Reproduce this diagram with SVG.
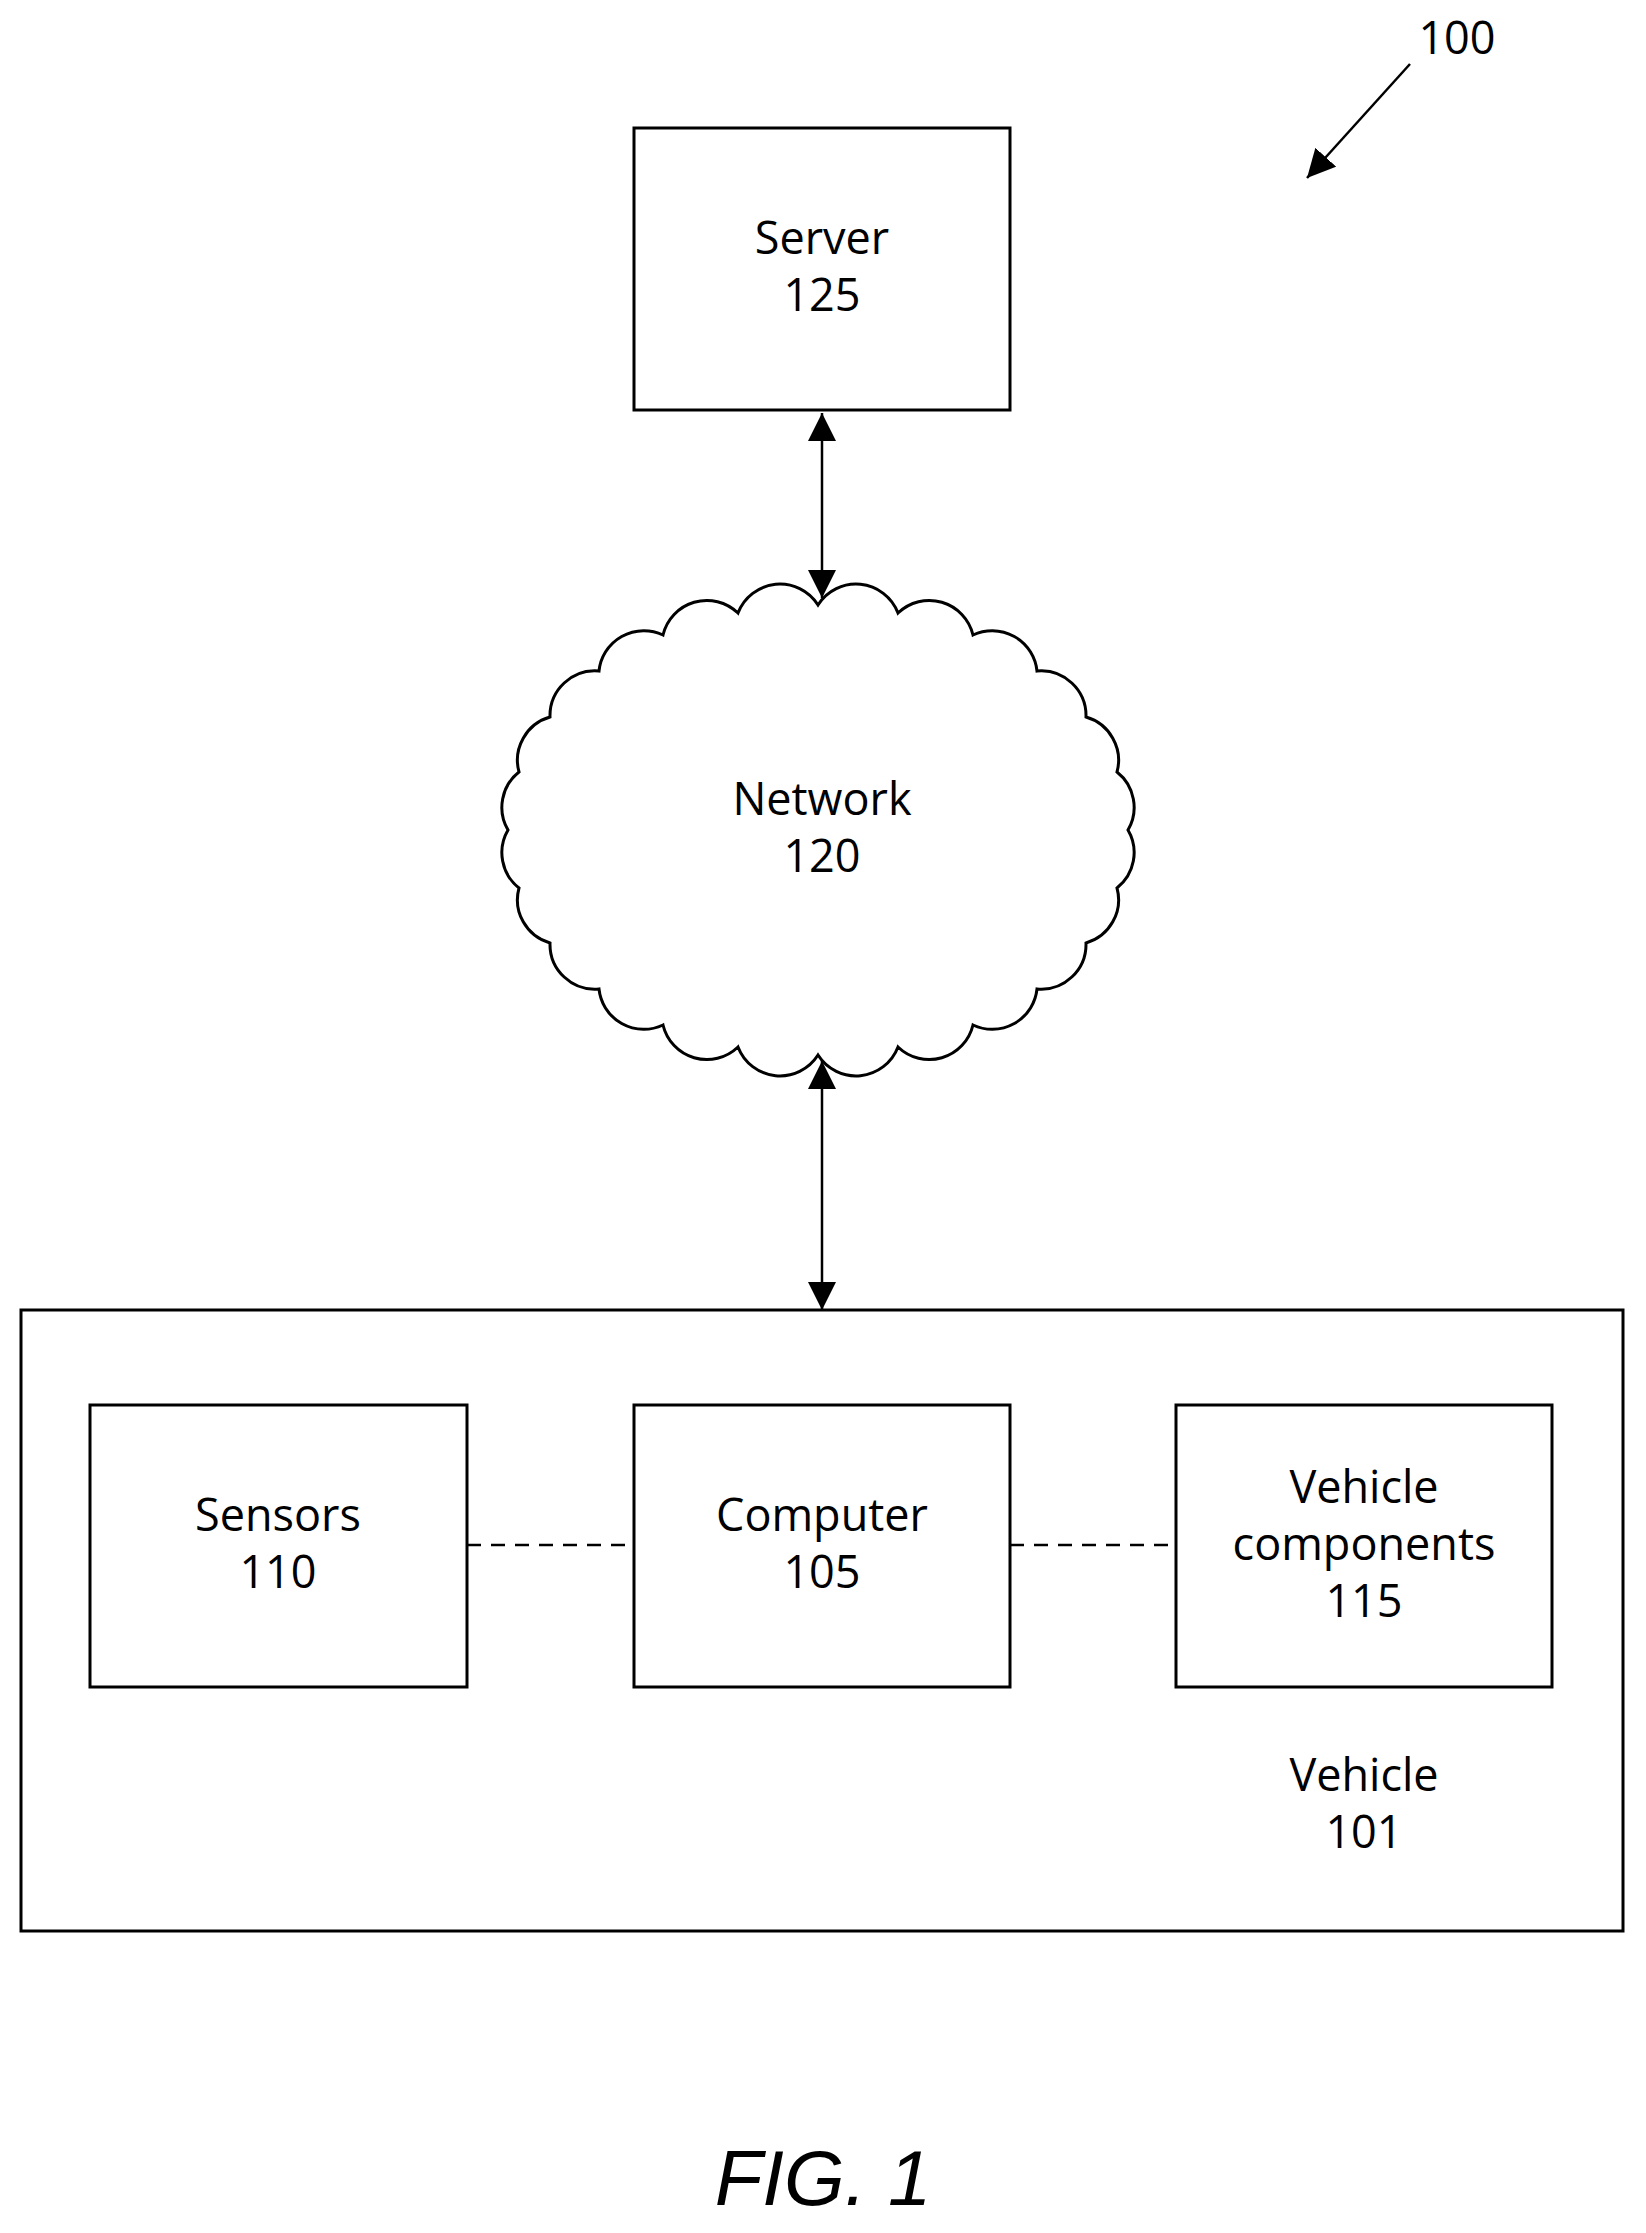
<svg xmlns="http://www.w3.org/2000/svg" width="1646" height="2233" viewBox="0 0 1646 2233">
<style>
.box{fill:#fff;stroke:#000;stroke-width:3}
.t{font-family:"Open Sans","DejaVu Sans",sans-serif;font-size:45px;text-anchor:middle;fill:#000}
.c{stroke:#000;stroke-width:2.5;fill:none}
</style>
<defs>
<marker id="ah" viewBox="0 0 10 10" refX="10" refY="5" markerWidth="12" markerHeight="12" markerUnits="userSpaceOnUse" orient="auto-start-reverse"><path d="M0,0 L10,5 L0,10 z" fill="#000"/></marker>
<marker id="ah2" viewBox="0 0 10 10" refX="10" refY="5" markerWidth="28" markerHeight="28" markerUnits="userSpaceOnUse" orient="auto-start-reverse"><path d="M0,0 L10,5 L0,10 z" fill="#000"/></marker>
</defs>
<rect width="1646" height="2233" fill="#fff"/>
<g id="label100"><text class="t" x="1457" y="54">100</text></g>
<g id="vehicle"><rect class="box" x="21" y="1310" width="1602" height="621"/><text class="t" x="1364" y="1791">Vehicle</text><text class="t" x="1364" y="1848">101</text></g>
<g id="server"><rect class="box" x="634" y="128" width="376" height="282"/><text class="t" x="822" y="254">Server</text><text class="t" x="822" y="311">125</text></g>
<g id="network"><path class="box" d="M1128,830 A45,45 0 0 1 1117,888 A45,45 0 0 1 1086,943 A45,45 0 0 1 1037,989 A45,45 0 0 1 973,1025 A45,45 0 0 1 898,1047 A45,45 0 0 1 818,1055 A45,45 0 0 1 738,1047 A45,45 0 0 1 663,1025 A45,45 0 0 1 599,989 A45,45 0 0 1 550,943 A45,45 0 0 1 519,888 A45,45 0 0 1 508,830 A45,45 0 0 1 519,772 A45,45 0 0 1 550,717 A45,45 0 0 1 599,671 A45,45 0 0 1 663,635 A45,45 0 0 1 738,613 A45,45 0 0 1 818,605 A45,45 0 0 1 898,613 A45,45 0 0 1 973,635 A45,45 0 0 1 1037,671 A45,45 0 0 1 1086,717 A45,45 0 0 1 1117,772 A45,45 0 0 1 1128,830 Z"/><text class="t" x="822" y="815">Network</text><text class="t" x="822" y="872">120</text></g>
<g id="sensors"><rect class="box" x="90" y="1405" width="377" height="282"/><text class="t" x="278" y="1531">Sensors</text><text class="t" x="278" y="1588">110</text></g>
<g id="computer"><rect class="box" x="634" y="1405" width="376" height="282"/><text class="t" x="822" y="1531">Computer</text><text class="t" x="822" y="1588">105</text></g>
<g id="components"><rect class="box" x="1176" y="1405" width="376" height="282"/><text class="t" x="1364" y="1503">Vehicle</text><text class="t" x="1364" y="1560">components</text><text class="t" x="1364" y="1617">115</text></g>
<g id="connectors">
<line class="c" x1="822" y1="413" x2="822" y2="598" marker-start="url(#ah2)" marker-end="url(#ah2)"/>
<line class="c" x1="822" y1="1061" x2="822" y2="1310" marker-start="url(#ah2)" marker-end="url(#ah2)"/>
<line class="c" x1="467" y1="1545" x2="634" y2="1545" stroke-dasharray="14,10"/>
<line class="c" x1="1010" y1="1545" x2="1176" y2="1545" stroke-dasharray="14,10"/>
<line class="c" x1="1410" y1="64" x2="1307" y2="178" marker-end="url(#ah2)"/>
</g>
<g id="fig"><text x="823" y="2205" style="font-family:'Liberation Sans',Arial,sans-serif;font-size:78px;font-style:italic;text-anchor:middle">FIG. 1</text></g>
</svg>
